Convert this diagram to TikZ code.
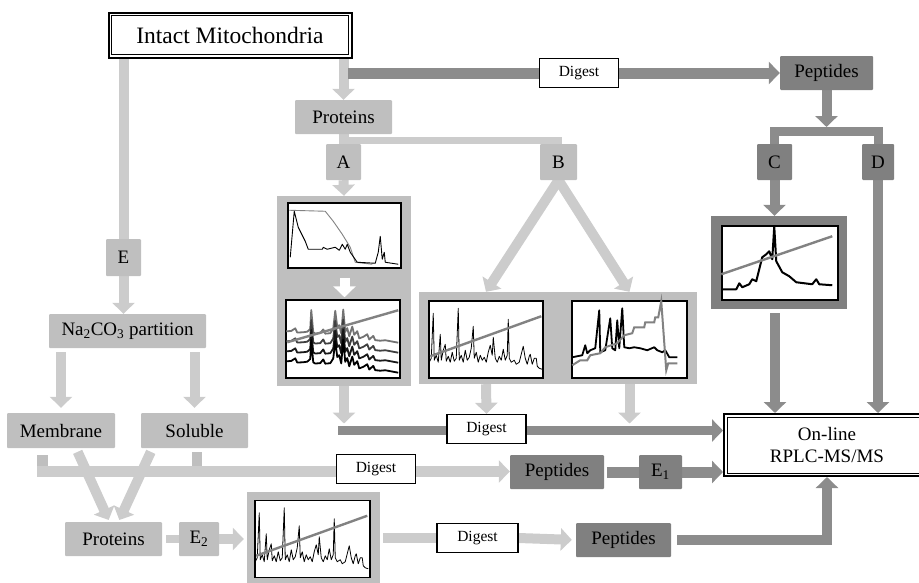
\documentclass[tikz,border=0pt]{standalone}
\usepackage{fontspec}
\setmainfont{Liberation Serif}
\usetikzlibrary{arrows.meta,backgrounds}

\definecolor{lightbar}{RGB}{204,204,204}
\definecolor{lightbox}{RGB}{191,191,191}
\definecolor{darkbar}{RGB}{140,140,140}
\definecolor{darkbox}{RGB}{128,128,128}
\definecolor{trace}{RGB}{130,130,130}

\tikzset{
  lbox/.style={fill=lightbox, rounded corners=1pt, inner sep=0pt, font=\fontsize{19}{22}\selectfont},
  dbox/.style={fill=darkbox, rounded corners=1pt, inner sep=0pt, font=\fontsize{19}{22}\selectfont},
  wbox/.style={draw, line width=1.4pt, fill=white, inner sep=0pt, minimum width=79pt, minimum height=29pt, font=\fontsize{15.5}{18}\selectfont},
  tbox/.style={draw, line width=2pt, fill=white, inner sep=0pt},
  chart/.style={draw, line width=1.5pt, fill=white, inner sep=0pt},
  lbar/.style={draw=lightbar, line width=10pt},
  dbar/.style={draw=darkbar, line width=10pt},
  headarr/.style={-{Triangle[width=22pt,length=11pt]}},
}

% noisy peptide trace, used twice
\newcommand{\spectrumtrace}{%
  \draw[line width=0.8pt, line join=round] (1,62) -- (3,58) -- (5,13) -- (6,60) -- (8,55) -- (10,62) -- (12,34) -- (13,60) -- (15,50) -- (17,44) -- (18,61) -- (20,56) -- (22,62) -- (24,52) -- (26,61) -- (28,58) -- (30,8) -- (31,60) -- (33,55) -- (35,62) -- (37,50) -- (39,60) -- (41,57) -- (43,48) -- (45,26) -- (46,58) -- (48,52) -- (50,62) -- (52,55) -- (54,60) -- (56,57) -- (58,62) -- (60,52) -- (62,45) -- (64,55) -- (65,37) -- (67,58) -- (69,62) -- (71,56) -- (73,60) -- (75,49) -- (77,60) -- (79,55) -- (80,19) -- (81,58) -- (83,62) -- (86,60) -- (88,64) -- (91,62) -- (93,54) -- (95,46) -- (97,58) -- (99,64) -- (101,56) -- (102,54) -- (104,64) -- (106,58) -- (108,58) -- (109,66) -- (111,68) -- (114,69);
  \draw[trace, line width=2.4pt] (2,56) -- (113,16);
}

\begin{document}
\begin{tikzpicture}[x=1pt,y=-1pt]
\useasboundingbox (0,0) rectangle (919,582);
\clip (0,0) rectangle (919,582);

% Intact Mitochondria
\node[tbox, minimum width=243pt, minimum height=45pt, font=\fontsize{23.5}{26}\selectfont] (intact) at (230,35) {Intact Mitochondria};
\draw[line width=0.8pt] ([shift={(4,4)}]intact.north west) rectangle ([shift={(-4,-4)}]intact.south east);

% top row
\node[lbox, minimum width=97pt, minimum height=34pt] (protA) at (343.5,117) {Proteins};
\node[wbox] (dig1) at (579,73) {Digest};
\node[dbox, minimum width=93pt, minimum height=34pt] (pepT) at (826.5,73) {Peptides};
\node[lbox, minimum width=35pt, minimum height=36pt] (A) at (343.5,162) {A};
\node[lbox, minimum width=37pt, minimum height=36pt] (B) at (558.5,162) {B};
\node[dbox, minimum width=35pt, minimum height=36pt] (C) at (774.5,162) {C};
\node[dbox, minimum width=32pt, minimum height=36pt] (D) at (878,162) {D};

% left branch
\node[lbox, minimum width=35pt, minimum height=37pt] (E) at (123.5,257.5) {E};
\node[lbox, minimum width=157pt, minimum height=34pt] (na) at (127.5,331) {Na\textsubscript{2}CO\textsubscript{3} partition};
\node[lbox, minimum width=108pt, minimum height=35pt] (mem) at (61,430.5) {Membrane};
\node[lbox, minimum width=107pt, minimum height=35pt] (sol) at (194.5,430.5) {Soluble};

% panels
\node[fill=lightbox, minimum width=134pt, minimum height=190pt, inner sep=0pt] (panelA) at (344,291) {};
\node[chart, minimum width=113pt, minimum height=65pt] (chA1) at (344.5,235.5) {};
\node[chart, minimum width=114pt, minimum height=78pt] (chA2) at (343,339) {};
\node[fill=lightbox, minimum width=278pt, minimum height=92pt, inner sep=0pt] (panelB) at (558,338) {};
\node[chart, minimum width=114pt, minimum height=77pt] (chB1) at (486,339.5) {};
\node[chart, minimum width=115pt, minimum height=77pt] (chB2) at (629.5,339.5) {};
\node[fill=darkbox, minimum width=136pt, minimum height=93pt, inner sep=0pt] (panelC) at (779,262.5) {};
\node[chart, minimum width=116pt, minimum height=74pt] (chC) at (780,263) {};
\node[fill=lightbox, minimum width=133pt, minimum height=98pt, inner sep=0pt] (panelE) at (313.5,541) {};
\node[chart, minimum width=115pt, minimum height=77pt] (chE) at (312.5,539) {};

% On-line RPLC-MS/MS
\node[tbox, minimum width=206pt, minimum height=62pt, align=center, font=\fontsize{19}{22}\selectfont] (online) at (827,445) {On-line\\RPLC-MS/MS};
\draw[line width=0.8pt] ([shift={(4,4)}]online.north west) rectangle ([shift={(-4,-4)}]online.south east);

% lower rows
\node[wbox] (dig2) at (486.5,429) {Digest};
\node[wbox] (dig3) at (376,469) {Digest};
\node[dbox, minimum width=94pt, minimum height=34pt] (pepM) at (557,472) {Peptides};
\node[dbox, minimum width=43pt, minimum height=34pt] (E1) at (660.5,472) {E\textsubscript{1}};
\node[lbox, minimum width=97pt, minimum height=34pt] (protB) at (113.5,539) {Proteins};
\node[lbox, minimum width=40pt, minimum height=34pt] (E2) at (199,539) {E\textsubscript{2}};
\node[wbox, minimum width=81pt] (dig4) at (477.5,538) {Digest};
\node[dbox, minimum width=95pt, minimum height=34pt] (pepB) at (623.5,540) {Peptides};

% chart A1
\begin{scope}[shift={(chA1.north west)}]
\draw[trace, line width=0.9pt, line join=round] (2,8) -- (38,9) -- (46,19) -- (55,32) -- (63,45) -- (68,60) -- (85,62);
\draw[line width=0.9pt, line join=round] (3,55) -- (7,9) -- (11,25) -- (18,39) -- (21,47) -- (35,47) -- (36,45) -- (40,47) -- (48,45) -- (52,48) -- (55,42) -- (58,47) -- (60,42) -- (63,50) -- (70,60) -- (88,61) -- (91,50) -- (93,34) -- (95,57) -- (97,50) -- (98,60) -- (111,62);
\end{scope}

% chart A2
\begin{scope}[shift={(chA2.north west)}]
\foreach \k/\col in {0/black!55, 1/black!75, 2/black!90, 3/black}{
  \begin{scope}[shift={(0,10*\k)}, yslant=-0.11]
  \draw[\col, line width=1.8pt, line join=round] (1,32) -- (6,31) -- (10,28) -- (12,32) -- (18,31) -- (22,30) -- (25,27) -- (26,8) -- (28,30) -- (30,31) -- (35,30) -- (38,26) -- (40,30) -- (45,29) -- (48,24) -- (50,6) -- (52,22) -- (54,20) -- (56,28) -- (58,4) -- (60,26) -- (62,22) -- (64,30) -- (67,20) -- (69,28) -- (72,24) -- (74,31) -- (78,29) -- (82,26) -- (84,31) -- (88,27) -- (90,31) -- (95,31) -- (100,30) -- (113,31);
  \end{scope}
}
\draw[trace, line width=2.4pt] (2,43) -- (113,11);
\end{scope}

% chart B1
\begin{scope}[shift={(chB1.north west)}]
\spectrumtrace
\end{scope}

% chart B2
\begin{scope}[shift={(chB2.north west)}]
\draw[line width=1.8pt, line join=round] (1,57) -- (6,56) -- (11,55) -- (14,45) -- (16,53) -- (19,50) -- (24,48) -- (28,10) -- (29,52) -- (34,50) -- (39,18) -- (41,48) -- (44,50) -- (46,20) -- (48,48) -- (51,8) -- (53,47) -- (58,48) -- (63,47) -- (69,48) -- (76,50) -- (83,47) -- (86,50) -- (91,52) -- (94,50) -- (98,57) -- (106,57);
\draw[trace, line width=2pt] (1,65) -- (9,60) -- (16,60) -- (19,55) -- (29,53) -- (34,47) -- (46,43) -- (53,35) -- (61,33) -- (63,27) -- (73,27) -- (74,22) -- (83,22) -- (84,17) -- (87,17) -- (90,1) -- (95,70) -- (97,63) -- (106,63);
\end{scope}

% chart C
\begin{scope}[shift={(chC.north west)}]
\draw[line width=2pt, line join=round] (0,64) -- (15,64) -- (18,58) -- (21,62) -- (28,59) -- (31,54) -- (35,56) -- (38,44) -- (41,32) -- (45,29) -- (48,26) -- (51,34) -- (53,1) -- (55,36) -- (61,47) -- (68,51) -- (75,57) -- (91,59) -- (95,54) -- (98,59) -- (111,60);
\draw[trace, line width=2.4pt] (0,49) -- (111,11);
\end{scope}

% chart E2
\begin{scope}[shift={(chE.north west)}]
\spectrumtrace
\end{scope}

% white arrow inside panel A
\draw[draw=white, line width=10pt, headarr, shorten <=9pt, shorten >=2pt] (chA1.south) -- (chA1.south |- chA2.north);

\begin{scope}[on background layer]
% Intact -> E -> Na2CO3
\draw[lbar] (intact.south -| E.north) -- (E.north);
\draw[lbar, headarr] (E.south) -- (na.north -| E.south);
% Na2CO3 -> Membrane, Soluble
\draw[lbar, headarr, shorten <=4pt, shorten >=5pt] (na.south -| mem.north) -- (mem.north);
\draw[lbar, headarr, shorten <=4pt, shorten >=5pt] (na.south -| sol.north) -- (sol.north);
% Intact -> Proteins, Digest -> Peptides
\draw[lbar, headarr] (intact.south -| protA.north) -- (protA.north);
\coordinate (dstart) at (348,73);
\draw[dbar, line width=11pt, headarr] (dstart) -- (pepT.west |- dstart);
% Proteins -> A, B
\coordinate (absplit) at (343.5,140.5);
\draw[lbar] (protA.south) -- (A.north);
\draw[lbar, line width=7pt] (absplit) -| (B.north);
\draw[lbar, headarr] (A.south) -- (panelA.north);
\draw[lbar, headarr] (B.south) -- (panelB.north -| chB1.north);
\draw[lbar, headarr] (B.south) -- (panelB.north -| chB2.north);
% Peptides -> C, D
\coordinate (cdsplit) at (826.5,131);
\draw[dbar, headarr] (pepT.south) -- ([yshift=4pt]cdsplit);
\draw[dbar, line width=9pt] (C.north) -- (C.north |- cdsplit) -- (D.north |- cdsplit) -- (D.north);
\draw[dbar, headarr] (C.south) -- (panelC.north -| C.south);
\coordinate (cstart) at (775,313);
\draw[dbar, headarr] (cstart) -- (online.north -| cstart);
\draw[dbar, headarr] (D.south) -- (online.north -| D.south);
% panels -> Digest -> On-line
\coordinate (dgline) at (338,430.5);
\draw[dbar, line width=9pt, headarr] (dgline) -- (online.west |- dgline);
\draw[lbar, headarr, shorten >=7pt] (panelA.south) -- (panelA.south |- dgline);
\draw[lbar, headarr] (panelB.south -| chB1.south) -- (dig2.north);
\draw[lbar, headarr, shorten >=7pt] (panelB.south -| chB2.south) -- (chB2.south |- dgline);
% Membrane, Soluble -> Digest -> Peptides -> E1 -> On-line
\coordinate (msbar) at (37,471.5);
\coordinate (mstub) at (42.5,471.5);
\draw[lbar, draw=lightbox, line width=11pt, shorten <=7pt, shorten >=-5.5pt] (mem.south -| mstub) -- (mstub);
\draw[lbar, draw=lightbox, shorten <=4pt] ([xshift=2.5pt]sol.south) -- ([xshift=2.5pt]sol.south |- msbar);
\draw[lbar, line width=11pt, headarr] (msbar) -- (pepM.west |- msbar);
\draw[dbar, line width=11pt, shorten <=3pt] (pepM.east) -- (E1.west);
\draw[dbar, line width=11pt, headarr] (E1.east) -- (online.west |- E1.east);
% Membrane, Soluble -> Proteins
\draw[lbar, headarr, shorten <=4pt, shorten >=2pt] ([xshift=15pt]mem.south) -- ([xshift=-4pt]protB.north);
\draw[lbar, headarr, shorten <=4pt, shorten >=2pt] ([xshift=-42pt]sol.south) -- ([xshift=5pt]protB.north);
% bottom row
\draw[lbar, line width=8pt, shorten <=4pt] (protB.east) -- (E2.west);
\draw[lbar, headarr, shorten >=3pt] (E2.east) -- (panelE.west |- E2.east);
\draw[lbar, shorten <=3pt] (panelE.east |- dig4.west) -- (dig4.west);
\draw[lbar, headarr, shorten >=4pt] (dig4.east) -- (pepB.west);
\draw[dbar, headarr, shorten <=6pt] (pepB.east) -| (online.south);
\end{scope}
\end{tikzpicture}
\end{document}
